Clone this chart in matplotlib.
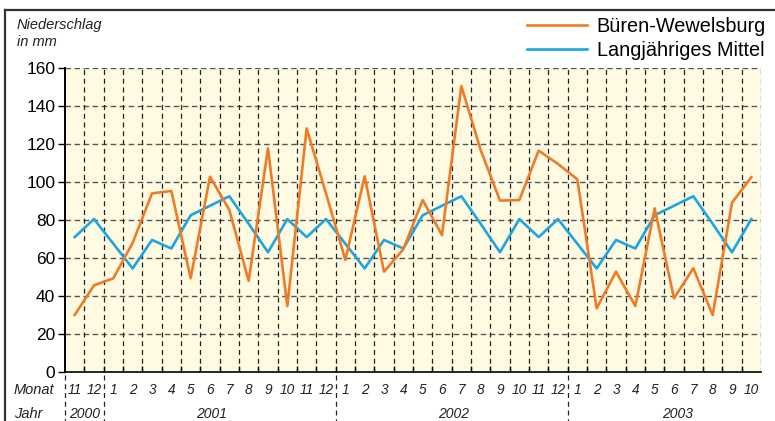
import matplotlib
matplotlib.use('Agg')
import matplotlib.pyplot as plt
from matplotlib.lines import Line2D
import matplotlib.transforms as mtransforms

# Niederschlag Büren-Wewelsburg, 11/2000 bis 10/2003 (mm)
monate = ['11', '12',
          '1', '2', '3', '4', '5', '6', '7', '8', '9', '10', '11', '12',
          '1', '2', '3', '4', '5', '6', '7', '8', '9', '10', '11', '12',
          '1', '2', '3', '4', '5', '6', '7', '8', '9', '10']
jahre = ['2000', '2001', '2002', '2003']
jahr_pos = [0.5, 7.1, 19.6, 31.2]        # Lage der Jahreszahlen
jahr_grenzen = [-0.5, 1.5, 13.5, 25.5]   # gestrichelte Trenner unter der Achse

bueren = [30, 45.6,
          49.3, 68, 94, 95.3, 49.3, 102.8, 85.3, 48, 117.7, 34.7, 128.2, 94,
          59, 103, 52.8, 64.6, 90.5, 72.1, 150.5, 116.8, 90.2, 90.5, 116.5, 109.5,
          101.4, 33.5, 52.8, 34.7, 86.1, 38.8, 54.6, 30, 89.1, 102.5]
mittel = [71, 80.5,
          67.5, 54.5, 69.5, 65, 82.5, 87.5, 92.5, 78, 63, 80.5, 71, 80.5,
          67.5, 54.5, 69.5, 65, 82.5, 87.5, 92.5, 78, 63, 80.5, 71, 80.5,
          67.5, 54.5, 69.5, 65, 82.5, 87.5, 92.5, 78, 63, 80.5]
y_ticks = [0, 20, 40, 60, 80, 100, 120, 140, 160]

plt.rcParams['font.family'] = ['Liberation Sans', 'DejaVu Sans']

fig = plt.figure(figsize=(7.75, 4.21), dpi=100)
fig.patch.set_facecolor('white')
ax = fig.add_axes([65 / 775, 1 - 372 / 421, (761 - 65) / 775, (372 - 68) / 421])
ax.set_facecolor('#fffbe3')

x = list(range(len(monate)))
ax.set_xlim(-0.5, len(monate) - 0.5)
ax.set_ylim(0, 160)

# Gitter
for v in y_ticks[1:]:
    ax.axhline(v, color='#555555', lw=1.0, ls=(0, (4, 2.5)), zorder=1)
for i in range(len(monate)):
    ax.axvline(i + 0.5, color='#222222', lw=0.9, ls=(0, (4, 3)), zorder=1)

ax.plot(x, mittel, color='#1ba6e0', lw=1.9, zorder=3, label='Langjähriges Mittel')
ax.plot(x, bueren, color='#f07b26', lw=1.9, zorder=4, label='Büren-Wewelsburg')

for s in ['top', 'right']:
    ax.spines[s].set_visible(False)
ax.spines['left'].set_linewidth(1.4)
ax.spines['bottom'].set_linewidth(1.2)

ax.set_yticks(y_ticks)
ax.tick_params(axis='y', direction='out', length=5, width=1, pad=2, labelsize=12.5)
ax.set_xticks([i + 0.5 for i in range(len(monate) - 1)])
ax.set_xticklabels([])
ax.tick_params(axis='x', direction='in', length=4, width=1)

trans = mtransforms.blended_transform_factory(ax.transData, ax.transAxes)
for i, m in enumerate(monate):
    ax.text(i, -0.058, m, transform=trans, ha='center', va='center',
            fontsize=9.8, style='italic', color='#222222')
for j, p in zip(jahre, jahr_pos):
    ax.text(p, -0.138, j, transform=trans, ha='center', va='center',
            fontsize=10, style='italic', color='#222222')
for g in jahr_grenzen:
    ax.plot([g, g], [-0.01, -0.165], transform=trans, color='#222222',
            lw=0.9, ls=(0, (4, 3)), clip_on=False)

fig.text(14 / 775, 1 - 390 / 421, 'Monat', ha='left', va='center',
         fontsize=10.5, style='italic', color='#222222')
fig.text(14 / 775, 1 - 414 / 421, 'Jahr', ha='left', va='center',
         fontsize=10.5, style='italic', color='#222222')
fig.text(17 / 775, 1 - 18 / 421, 'Niederschlag\nin mm', ha='left', va='top',
         fontsize=10.5, style='italic', color='#222222', linespacing=1.25)

# Legende
h, l = ax.get_legend_handles_labels()
fig.legend(h[::-1], l[::-1], loc='upper right', bbox_to_anchor=(766 / 775, 1 - 17 / 421),
           frameon=False, fontsize=14.3, handlelength=3.0, handletextpad=0.5,
           labelspacing=0.25, borderaxespad=0, borderpad=0)

# Rahmen oben und links
fig.add_artist(Line2D([5 / 775, 1], [1 - 10 / 421, 1 - 10 / 421], color='#333333', lw=1.6))
fig.add_artist(Line2D([5 / 775, 5 / 775], [0, 1 - 10 / 421], color='#333333', lw=1.6))

fig.savefig('out.png', dpi=100)
